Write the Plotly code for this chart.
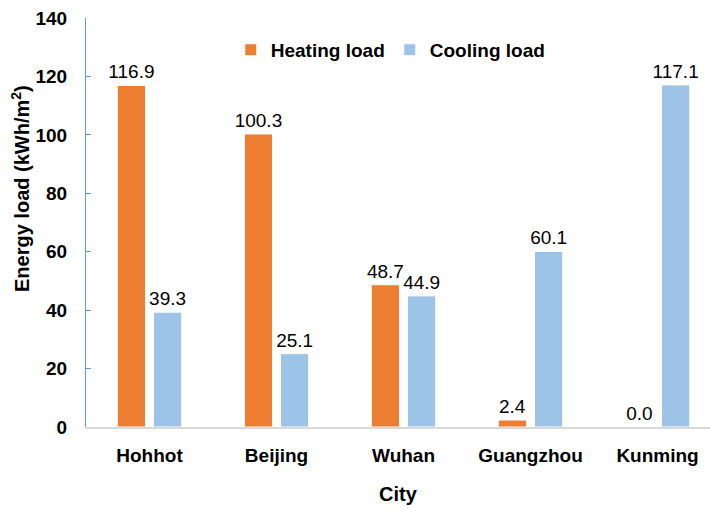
import plotly.graph_objects as go

cities = ["Hohhot", "Beijing", "Wuhan", "Guangzhou", "Kunming"]
heating = [116.9, 100.3, 48.7, 2.4, 0.0]
cooling = [39.3, 25.1, 44.9, 60.1, 117.1]
yticks = [0, 20, 40, 60, 80, 100, 120, 140]

FONT = "Arial, Liberation Sans, sans-serif"
ORANGE = "#ED7D31"
BLUE = "#9DC3E6"

fig = go.Figure()
for name, vals, col in [("Heating load", heating, ORANGE), ("Cooling load", cooling, BLUE)]:
    fig.add_trace(go.Bar(
        x=cities, y=vals, name=name,
        marker=dict(color=col, line=dict(color="white", width=1)),
        text=[f"{v:.1f}" for v in vals], textposition="outside",
        constraintext="none",
        textfont=dict(family=FONT, size=19, color="#000000"), cliponaxis=False,
    ))

fig.update_layout(
    width=710, height=512,
    margin=dict(l=86, r=0, t=18, b=85, autoexpand=False),
    plot_bgcolor="white", paper_bgcolor="white",
    barmode="group", bargap=0.43, bargroupgap=0.22,
    font=dict(family=FONT, color="#000000"),
    legend=dict(
        orientation="h", xref="paper", yref="paper",
        x=0.232, y=0.922, xanchor="left", yanchor="middle",
        font=dict(family=FONT, size=19, color="#000000", weight="bold"),
        itemwidth=30, bgcolor="rgba(0,0,0,0)",
    ),
    annotations=[dict(
        text="Energy load (kWh/m<sup>2</sup>)", textangle=-90,
        xref="paper", yref="paper", x=(20 - 86) / 624, y=(427 - 189) / 409,
        xanchor="center", yanchor="middle", showarrow=False,
        font=dict(family=FONT, size=20, color="#000000", weight="bold"),
    )],
)
fig.update_xaxes(
    range=[-0.5, 4.413], showgrid=False,
    showline=True, linecolor="#D9D9D9", linewidth=1.5,
    ticks="", tickfont=dict(family=FONT, size=19, color="#000000", weight="bold"),
    ticklabelstandoff=10,
    title=dict(text="City", font=dict(family=FONT, size=20, color="#000000", weight="bold"), standoff=22),
)
fig.update_yaxes(
    range=[0, 140], tickvals=yticks, ticktext=[str(v) for v in yticks],
    showgrid=False, zeroline=False,
    showline=True, linecolor="#5B9BD5", linewidth=1,
    ticks="inside", ticklen=5, tickcolor="#5B9BD5",
    tickfont=dict(family=FONT, size=19, color="#000000", weight="bold"),
    ticklabelstandoff=14,
)

fig.write_html(
    "out.html",
    config={"displayModeBar": False},
    post_script="document.body.style.margin='0';document.body.style.overflow='hidden';",
)
